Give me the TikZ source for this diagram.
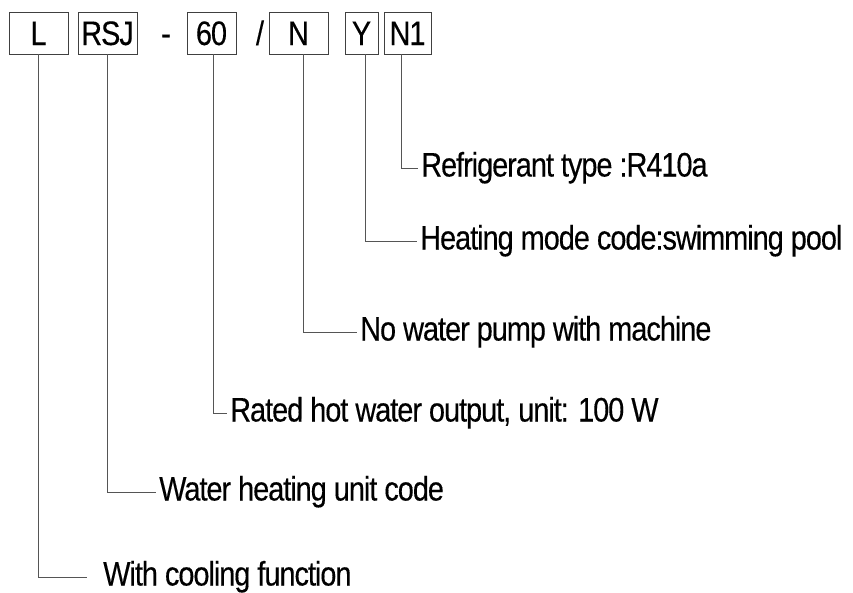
\documentclass[tikz,border=0pt]{standalone}
\usepackage{fontspec}
\setmainfont{Liberation Sans}[LetterSpace=-3, FakeStretch=0.85, FakeBold=0.3]
\usetikzlibrary{positioning}
\definecolor{cbox}{HTML}{404040}
\definecolor{clead}{HTML}{555555}

\tikzset{
  codebox/.style={draw=cbox, line width=0.8pt, minimum height=42pt, inner sep=0pt,
    font=\fontsize{34}{34}\selectfont, text height=24pt, text depth=0pt},
  sep/.style={inner sep=0pt, font=\fontsize{34}{34}\selectfont, text height=24pt, text depth=0pt},
  desc/.style={anchor=west, inner xsep=3pt, inner ysep=0pt,
    font=\fontsize{34}{34}\selectfont, text height=24pt, text depth=7pt},
  lead/.style={draw=clead, line width=0.7pt}
}

\begin{document}
\begin{tikzpicture}[x=1pt, y=-1pt]
  \useasboundingbox (0,0) rectangle (853,592);

  % model code boxes
  \node[codebox, minimum width=59pt] (L) at (38.5,33) {L};
  \node[codebox, minimum width=59pt] (RSJ) at (107.5,33) {RSJ};
  \node[sep] (dash) at (166,33) {-};
  \node[codebox, minimum width=49pt] (sixty) at (211.5,33) {60};
  \node[sep] (slash) at (260,33) {/};
  \node[codebox, minimum width=59pt] (N) at (298.5,33) {N};
  \node[codebox, minimum width=33pt] (Y) at (361.5,33) {Y};
  \node[codebox, minimum width=47pt] (N1) at (407.5,33) {N1};

  % meanings
  \node[desc] (refr) at (418,168) {Refrigerant type :R410a};
  \node[desc] (heat) at (417,241) {Heating mode code:swimming pool};
  \node[desc] (pump) at (357,332) {No water pump with machine};
  \node[desc] (rated) at (227,413) {Rated hot water output, unit: 100 W};
  \node[desc] (unit) at (156,492) {Water heating unit code};
  \node[desc, inner xsep=16pt] (cool) at (87,577) {With cooling function};

  \draw[lead] ([xshift=-6.5pt]N1.south) |- (refr.west);
  \draw[lead] ([xshift=3.5pt]Y.south) |- (heat.west);
  \draw[lead] ([xshift=4.5pt]N.south) |- (pump.west);
  \draw[lead] ([xshift=1.5pt]sixty.south) |- (rated.west);
  \draw[lead] (RSJ.south) |- (unit.west);
  \draw[lead] (L.south) |- (cool.west);
\end{tikzpicture}
\end{document}
